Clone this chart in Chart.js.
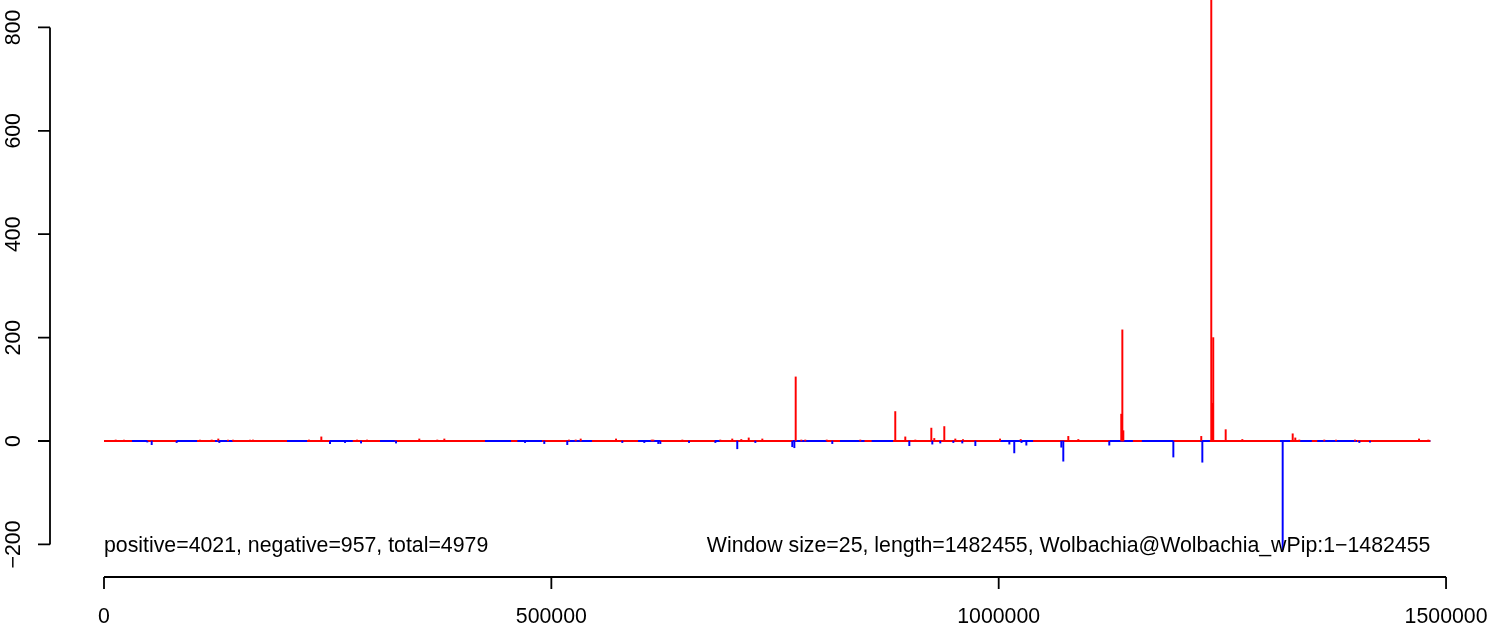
<!DOCTYPE html>
<html>
<head>
<meta charset="utf-8">
<script src="https://cdn.jsdelivr.net/npm/chart.js@4/dist/chart.umd.min.js"></script>
<style>
  html, body { margin: 0; padding: 0; background: #fff; }
  #wrap { width: 1492px; height: 628px; position: relative; }
</style>
</head>
<body>
<div id="wrap"><canvas id="chart" width="1492" height="628"></canvas></div>
<script>
// genome windows with a visible positive count (position, count)
const posX = [13080, 22350, 107300, 120400, 127750, 138600, 144200, 163200, 166500, 229100, 242900, 282800, 294000,
    352400, 372500, 380400, 519700, 527200, 532800, 572300, 612200, 614000, 646400, 688800, 702200, 712300, 720600,
    735800, 773100, 779400, 783800, 807800, 845300, 884400, 895600, 906800, 924700, 928000, 939200, 951500, 960100,
    1001500, 1024600, 1077800, 1089000, 1137000, 1138200, 1139300, 1226400, 1237600, 1238700, 1239800, 1253700,
    1272300, 1328600, 1331500, 1336000, 1363900, 1377000, 1398200, 1469800, 1480200];
const posY = [2, 2, 2, 2, 4, 2, 2, 2, 2, 2, 8, 2, 2,
    4, 2, 4, 2, 2, 4, 4, 2, 2, 2, 2, 4, 3, 6,
    4, 124, 2, 2, 2, 2, 57, 8, 2, 25, 5, 28, 4, 3,
    4, 3, 9, 3, 52, 215, 20, 9, 900, 73, 200, 22,
    3, 14, 6, 2, 2, 2, 2, 4, 2];

// windows with a visible negative count
const negX = [48400, 53300, 81200, 128900, 252600, 269400, 287300, 326400, 470600, 492100, 517800, 579300, 603900,
    619500, 621800, 653900, 683300, 707800, 728000, 769300, 771600, 814000, 900100, 925800, 934700, 949300, 959300,
    973900, 1011900, 1017400, 1025500, 1030900, 1070000, 1072200, 1123600, 1195200, 1227600, 1317400, 1403100, 1415000];
const negY = [-2, -7, -3, -3, -5, -3, -4, -4, -3, -5, -7, -3, -3,
    -5, -5, -3, -3, -15, -3, -11, -13, -5, -9, -6, -4, -3, -4,
    -9, -6, -23, -3, -8, -12, -39, -8, -31, -41, -210, -3, -2];

// stretches of the genome where the +1 windows dominate the zero band
const redStretches = [[0, 31300], [48000, 81600], [104000, 124000], [144000, 204500], [227000, 252600],
    [278000, 308500], [325000, 425800], [455000, 462000], [489600, 518600], [545400, 596900], [621400, 682900],
    [688500, 770100], [808000, 822600], [850000, 858000], [881900, 1001500], [1038400, 1124400], [1150000, 1160000],
    [1194800, 1225000], [1236000, 1314400], [1325600, 1336800], [1350000, 1356000], [1400500, 1482455]];

const genomeLength = 1482455;
const xTicks = [0, 500000, 1000000, 1500000];
const yTicks = [-200, 0, 200, 400, 600, 800];
const leftNote = 'positive=4021, negative=957, total=4979';
const rightNote = 'Window size=25, length=1482455, Wolbachia@Wolbachia_wPip:1\u22121482455';

function toPoints(xs, ys) {
    return xs.map((x, i) => ({ x: x, y: ys[i] }));
}

function stretchPoints(list) {
    let pts = [];
    list.forEach(s => {
        pts.push({ x: s[0], y: 0 });
        pts.push({ x: s[1], y: 0 });
        pts.push({ x: s[1], y: null });
    });
    return pts;
}

const FONT = '21.3px "Liberation Sans", Arial, sans-serif';

// R style axes: line only across the tick range, ticks pointing outward
const rAxes = {
    id: 'rAxes',
    afterDraw(chart) {
        const ctx = chart.ctx;
        const xs = chart.scales.x;
        const ys = chart.scales.y;
        const area = chart.chartArea;
        ctx.save();
        ctx.strokeStyle = '#000';
        ctx.fillStyle = '#000';
        ctx.lineWidth = 1.8;
        ctx.font = FONT;

        // x axis
        const xb = area.bottom;
        ctx.beginPath();
        ctx.moveTo(xs.getPixelForValue(xTicks[0]), xb);
        ctx.lineTo(xs.getPixelForValue(xTicks[xTicks.length - 1]), xb);
        xTicks.forEach(t => {
            const p = xs.getPixelForValue(t);
            ctx.moveTo(p, xb);
            ctx.lineTo(p, xb + 12);
        });
        ctx.stroke();
        ctx.textAlign = 'center';
        ctx.textBaseline = 'middle';
        xTicks.forEach(t => {
            ctx.fillText(String(t), xs.getPixelForValue(t), xb + 40);
        });

        // y axis
        const yl = area.left;
        ctx.beginPath();
        ctx.moveTo(yl, ys.getPixelForValue(yTicks[0]));
        ctx.lineTo(yl, ys.getPixelForValue(yTicks[yTicks.length - 1]));
        yTicks.forEach(t => {
            const p = ys.getPixelForValue(t);
            ctx.moveTo(yl, p);
            ctx.lineTo(yl - 12, p);
        });
        ctx.stroke();
        yTicks.forEach(t => {
            ctx.save();
            ctx.translate(yl - 36, ys.getPixelForValue(t));
            ctx.rotate(-Math.PI / 2);
            ctx.fillText(String(t).replace('-', '\u2212'), 0, 0);
            ctx.restore();
        });

        // notes at the bottom of the panel
        const ny = ys.getPixelForValue(-200) + 2;
        ctx.textAlign = 'left';
        ctx.fillText(leftNote, xs.getPixelForValue(0), ny);
        ctx.textAlign = 'right';
        ctx.fillText(rightNote, xs.getPixelForValue(genomeLength), ny);
        ctx.restore();
    }
};

new Chart(document.getElementById('chart'), {
    type: 'bar',
    data: {
        datasets: [
            {
                type: 'line',
                label: 'zero band',
                data: [{ x: 0, y: 0 }, { x: genomeLength, y: 0 }],
                borderColor: '#0000FF',
                borderWidth: 2,
                pointRadius: 0,
                order: 4
            },
            {
                type: 'line',
                label: 'zero band +',
                data: stretchPoints(redStretches),
                borderColor: '#FF0000',
                borderWidth: 2,
                pointRadius: 0,
                spanGaps: false,
                order: 3
            },
            {
                label: 'positive',
                data: toPoints(posX, posY),
                backgroundColor: '#FF0000',
                borderWidth: 0,
                barThickness: 1.3,
                grouped: false,
                order: 2
            },
            {
                label: 'negative',
                data: toPoints(negX, negY),
                backgroundColor: '#0000FF',
                borderWidth: 0,
                barThickness: 1.3,
                grouped: false,
                order: 1
            }
        ]
    },
    options: {
        responsive: false,
        animation: false,
        devicePixelRatio: 1,
        layout: { padding: { left: 50, right: 9, top: 0, bottom: 51 } },
        plugins: {
            legend: { display: false },
            tooltip: { enabled: false }
        },
        scales: {
            x: { type: 'linear', offset: false, min: -60356, max: 1541300, display: false },
            y: { type: 'linear', min: -263, max: 853, display: false }
        }
    },
    plugins: [rAxes]
});
</script>
</body>
</html>
